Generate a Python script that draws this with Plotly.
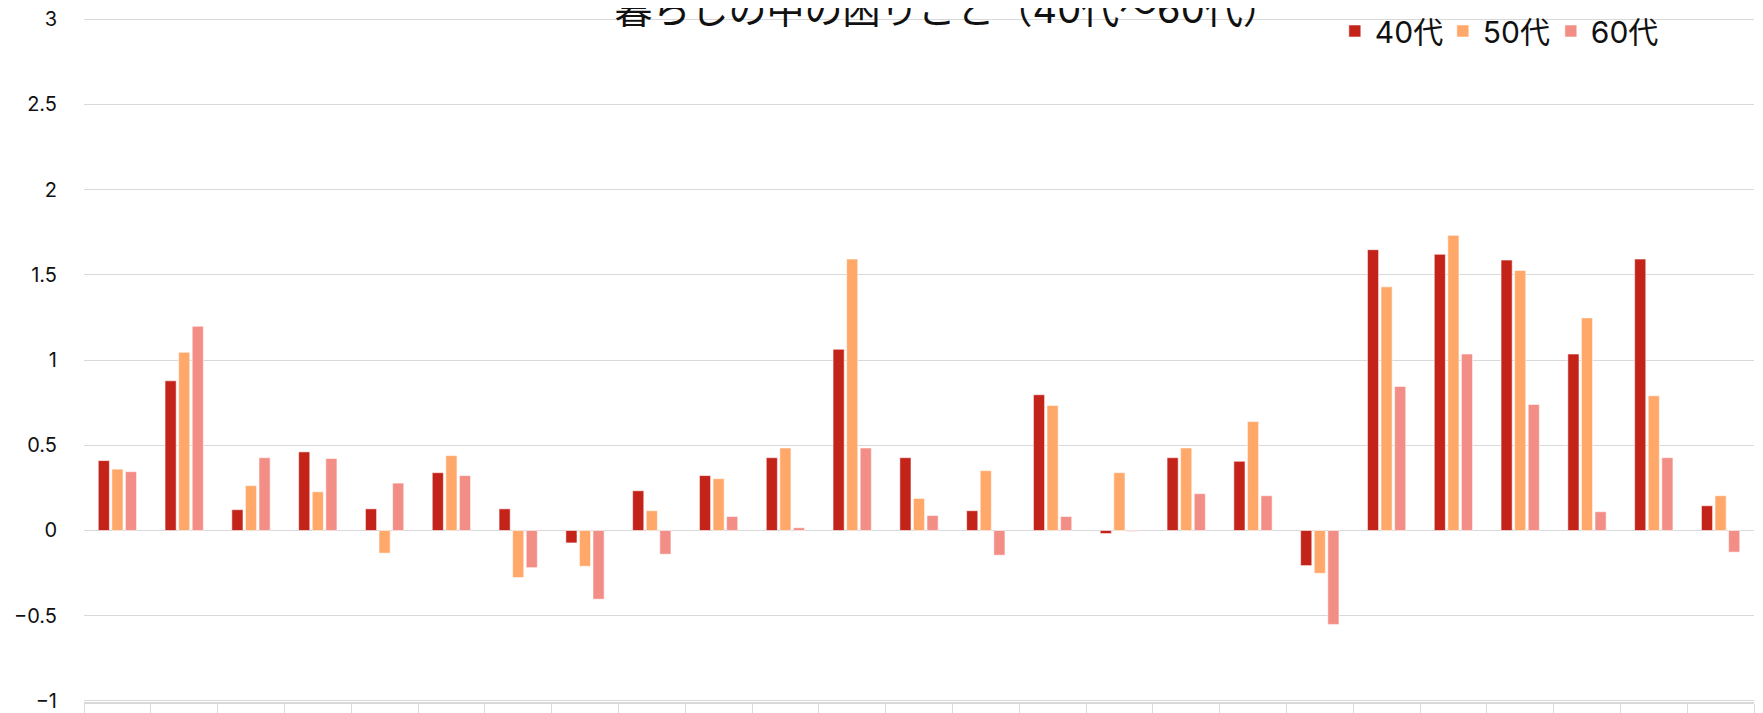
import plotly.graph_objects as go

categories = [f"項目{i:02d}" for i in range(1, 26)]

age40 = [0.41, 0.878, 0.122, 0.461, 0.127, 0.339, 0.127, -0.073, 0.233, 0.322,
         0.427, 1.063, 0.427, 0.116, 0.796, -0.018, 0.427, 0.406, -0.206, 1.647,
         1.620, 1.586, 1.035, 1.592, 0.145]
age50 = [0.36, 1.045, 0.263, 0.227, -0.133, 0.439, -0.276, -0.21, 0.116, 0.304,
         0.484, 1.592, 0.188, 0.351, 0.733, 0.339, 0.484, 0.639, -0.251, 1.429,
         1.731, 1.525, 1.247, 0.790, 0.204]
age60 = [0.345, 1.198, 0.427, 0.422, 0.278, 0.322, -0.218, -0.403, -0.139, 0.082,
         0.016, 0.484, 0.088, -0.145, 0.082, -0.005, 0.216, 0.204, -0.551, 0.845,
         1.035, 0.739, 0.110, 0.427, -0.127]

series_names = ["40代", "50代", "60代"]
series_values = [age40, age50, age60]
colors = ["#C4231A", "#FFA86A", "#F38E87"]

title_text = "暮らしの中の困りごと（40代〜60代）"
font_family = "Inter, Noto Sans CJK JP"

fig = go.Figure()
for name, vals, col in zip(series_names, series_values, colors):
    fig.add_trace(go.Bar(
        x=categories, y=vals, name=name,
        marker=dict(color=col, line=dict(color="rgba(255,255,255,0.55)", width=1)),
    ))

# page body has an 8px default margin, so the figure is sized to fit the window
fig.update_layout(
    width=1755, height=705,
    barmode="group", bargap=0.39, bargroupgap=0.18,
    plot_bgcolor="white", paper_bgcolor="white",
    margin=dict(l=76, r=9, t=10, b=11, autoexpand=False),
    font=dict(family=font_family, color="#222222"),
    title=dict(text=title_text, font=dict(size=38, color="#111111", family=font_family),
               x=0.5354, xanchor="center", xref="container",
               y=0.998, yanchor="middle", yref="container"),
    legend=dict(orientation="h", x=0.749, xanchor="left", y=0.981, yanchor="middle",
                font=dict(size=30, color="#111111", family=font_family),
                bgcolor="rgba(0,0,0,0)", itemwidth=30, traceorder="normal",
                entrywidth=63, entrywidthmode="pixels"),
    showlegend=True,
)
fig.update_yaxes(range=[-1.006, 3.006], dtick=0.5, tick0=0, showgrid=True, gridcolor="#D9D9D9",
                 gridwidth=1, zeroline=True, zerolinecolor="#D9D9D9", zerolinewidth=1,
                 showline=False, ticks="", ticklabelstandoff=26, automargin=False,
                 ticklabeloverflow="allow",
                 tickfont=dict(size=20, color="#111111", family=font_family))
fig.update_xaxes(showticklabels=False, showline=True, linecolor="#D9D9D9", linewidth=1.5,
                 ticks="outside", tickson="boundaries", ticklen=14, tickcolor="#D9D9D9",
                 showgrid=False, mirror=False, automargin=False)

fig.write_html("out.html")
